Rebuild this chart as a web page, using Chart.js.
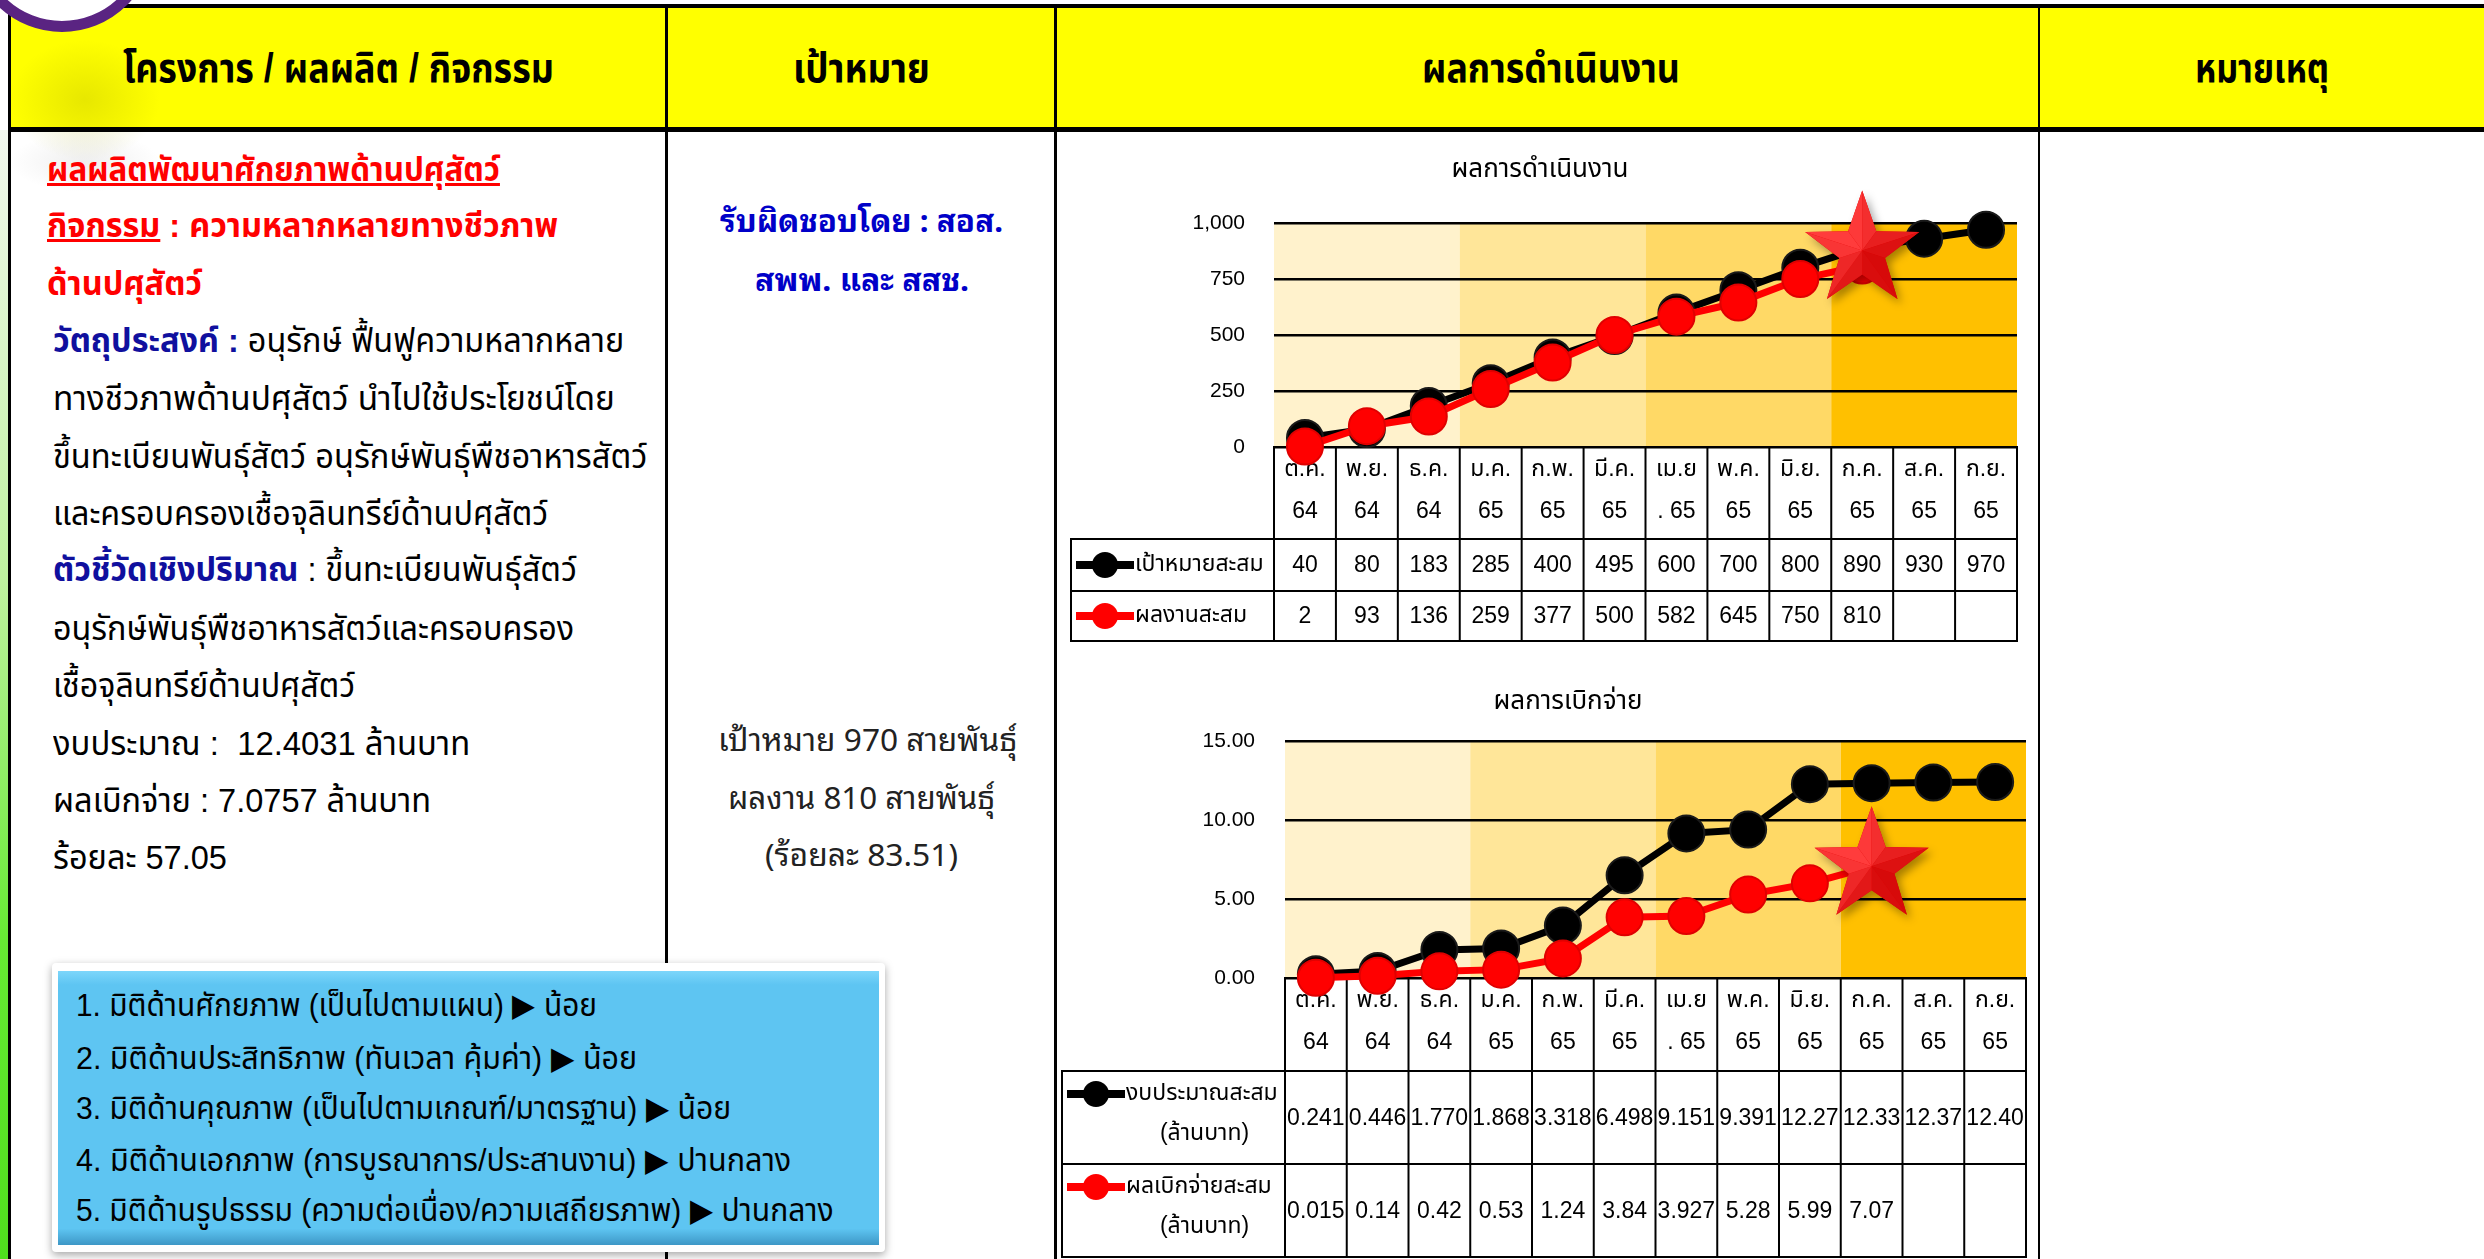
<!DOCTYPE html>
<html lang="th">
<head>
<meta charset="utf-8">
<title>ผลการดำเนินงาน</title>
<script src="https://cdn.jsdelivr.net/npm/chart.js@4.4.1/dist/chart.umd.min.js"></script>
<style>
  html, body { margin: 0; padding: 0; }
  body {
    position: relative; width: 2484px; height: 1259px; overflow: hidden; background: #fff; color: #000;
    font-family: "Liberation Sans", "Noto Sans Thai", "Noto Sans Thai UI", "Loma", "Garuda", "Waree", sans-serif;
  }
  .box { position: absolute; }
  .bar { position: absolute; background: #000; }
  .ln { position: absolute; white-space: nowrap; height: 60px; line-height: 60px; transform-origin: 0 50%; }
  .hd { font-weight: bold; font-size: 40px; }
  .red { color: #ff0000; font-weight: bold; font-size: 34px; }
  .txt { font-size: 34px; }
  .blue { color: #10109e; font-weight: bold; }
  .c2 { font-size: 31px; color: #222; font-family: "Noto Sans Thai Looped", "Liberation Sans", "Noto Sans Thai", sans-serif; }
  .c2b { font-size: 31px; color: #0000c8; font-weight: bold; font-family: "Noto Sans Thai Looped", "Liberation Sans", "Noto Sans Thai", sans-serif; }
  .bx { font-size: 32px; }
  canvas { position: absolute; }
</style>
</head>
<body>

<!-- page decoration -->
<div class="box" style="left:0;top:130px;width:8px;height:1129px;background:linear-gradient(#f2f8ee,#bff29f 40%,#66ea33 72%,#50de1e)"></div>

<!-- header band -->
<div class="box" style="left:10px;top:6px;width:2474px;height:123px;background:#ffff00"></div>
<div class="box" style="left:10px;top:40px;width:150px;height:120px;background:radial-gradient(closest-side,rgba(170,170,0,0.28),rgba(170,170,0,0))"></div>
<div class="box" style="left:10px;top:132px;width:150px;height:60px;background:radial-gradient(closest-side,rgba(120,120,120,0.12),rgba(120,120,120,0))"></div>
<div class="bar" style="left:8px;top:4px;width:2476px;height:4px"></div>
<div class="bar" style="left:8px;top:127px;width:2476px;height:5px"></div>
<div class="bar" style="left:8px;top:4px;width:3px;height:1255px"></div>
<div class="bar" style="left:665px;top:4px;width:3px;height:1255px"></div>
<div class="bar" style="left:1054px;top:4px;width:3px;height:1255px"></div>
<div class="bar" style="left:2038px;top:4px;width:2px;height:1255px"></div>
<div class="box" style="left:-30px;top:-152px;width:162px;height:162px;border-radius:50%;border:11px solid #5a2482;background:radial-gradient(circle at 50% 60%,#fff 55%,#e6e0ea)"></div>

<div class="ln hd" style="left:123px;top:38px" data-w="431">โครงการ / ผลผลิต / กิจกรรม</div>
<div class="ln hd" style="left:793px;top:38px" data-w="137">เป้าหมาย</div>
<div class="ln hd" style="left:1422px;top:38px" data-w="258">ผลการดำเนินงาน</div>
<div class="ln hd" style="left:2195px;top:38px" data-w="134">หมายเหตุ</div>

<!-- column 1 -->
<div class="ln red" style="left:47px;top:139px" data-w="453"><u>ผลผลิตพัฒนาศักยภาพด้านปศุสัตว์</u></div>
<div class="ln red" style="left:47px;top:195px" data-w="511"><u>กิจกรรม</u> : ความหลากหลายทางชีวภาพ</div>
<div class="ln red" style="left:47px;top:253px" data-w="155">ด้านปศุสัตว์</div>
<div class="ln txt" style="left:53px;top:310px" data-w="571"><span class="blue">วัตถุประสงค์ :</span> อนุรักษ์ ฟื้นฟูความหลากหลาย</div>
<div class="ln txt" style="left:53px;top:368px" data-w="562">ทางชีวภาพด้านปศุสัตว์ นำไปใช้ประโยชน์โดย</div>
<div class="ln txt" style="left:53px;top:426px" data-w="594">ขึ้นทะเบียนพันธุ์สัตว์ อนุรักษ์พันธุ์พืชอาหารสัตว์</div>
<div class="ln txt" style="left:53px;top:483px" data-w="495">และครอบครองเชื้อจุลินทรีย์ด้านปศุสัตว์</div>
<div class="ln txt" style="left:53px;top:539px" data-w="524"><span class="blue">ตัวชี้วัดเชิงปริมาณ</span> : ขึ้นทะเบียนพันธุ์สัตว์</div>
<div class="ln txt" style="left:53px;top:598px" data-w="521">อนุรักษ์พันธุ์พืชอาหารสัตว์และครอบครอง</div>
<div class="ln txt" style="left:53px;top:655px" data-w="302">เชื้อจุลินทรีย์ด้านปศุสัตว์</div>
<div class="ln txt" style="left:53px;top:713px" data-w="417">งบประมาณ :&nbsp; 12.4031 ล้านบาท</div>
<div class="ln txt" style="left:53px;top:770px" data-w="378">ผลเบิกจ่าย : 7.0757 ล้านบาท</div>
<div class="ln txt" style="left:53px;top:827px" data-w="174">ร้อยละ 57.05</div>

<!-- status box -->
<div class="box" style="left:52px;top:963px;width:833px;height:289px;background:#fff;box-shadow:0 3px 8px rgba(0,0,0,0.35);border-radius:4px"></div>
<div class="box" style="left:58px;top:971px;width:821px;height:274px;background:linear-gradient(#7dd6fb 0,#5ec5f2 5%,#5ec5f2 94%,#3d97c6 100%)"></div>
<div class="ln bx" style="left:76px;top:975px" data-w="521">1. มิติด้านศักยภาพ (เป็นไปตามแผน) ▶ น้อย</div>
<div class="ln bx" style="left:76px;top:1028px" data-w="561">2. มิติด้านประสิทธิภาพ (ทันเวลา คุ้มค่า) ▶ น้อย</div>
<div class="ln bx" style="left:76px;top:1078px" data-w="655">3. มิติด้านคุณภาพ (เป็นไปตามเกณฑ์/มาตรฐาน) ▶ น้อย</div>
<div class="ln bx" style="left:76px;top:1130px" data-w="715">4. มิติด้านเอกภาพ (การบูรณาการ/ประสานงาน) ▶ ปานกลาง</div>
<div class="ln bx" style="left:76px;top:1180px" data-w="758">5. มิติด้านรูปธรรม (ความต่อเนื่อง/ความเสถียรภาพ) ▶ ปานกลาง</div>

<!-- column 2 -->
<div class="ln c2b" style="left:720px;top:188px" data-w="283">รับผิดชอบโดย : สอส.</div>
<div class="ln c2b" style="left:755px;top:247px" data-w="214">สพพ. และ สสช.</div>
<div class="ln c2" style="left:718px;top:707px" data-w="299">เป้าหมาย 970 สายพันธุ์</div>
<div class="ln c2" style="left:728px;top:765px" data-w="267">ผลงาน 810 สายพันธุ์</div>
<div class="ln c2" style="left:765px;top:822px" data-w="193">(ร้อยละ 83.51)</div>

<!-- column 3 charts -->
<canvas id="perfChart" width="970" height="510" style="left:1060px;top:140px"></canvas>
<canvas id="spendChart" width="975" height="599" style="left:1060px;top:660px"></canvas>

<script>
// squeeze each text line to the width it has in the slide
document.querySelectorAll('[data-w]').forEach(el => {
  const k = el.dataset.w / el.getBoundingClientRect().width;
  el.style.transform = 'scaleX(' + k.toFixed(3) + ')';
});

// ---- data ----
const months = [['ต.ค.', '64'], ['พ.ย.', '64'], ['ธ.ค.', '64'], ['ม.ค.', '65'], ['ก.พ.', '65'], ['มี.ค.', '65'],
                ['เม.ย', '. 65'], ['พ.ค.', '65'], ['มิ.ย.', '65'], ['ก.ค.', '65'], ['ส.ค.', '65'], ['ก.ย.', '65']];
const targetCum = [40, 80, 183, 285, 400, 495, 600, 700, 800, 890, 930, 970];
const resultCum = [2, 93, 136, 259, 377, 500, 582, 645, 750, 810, null, null];
const budgetCum = [0.241, 0.446, 1.770, 1.868, 3.318, 6.498, 9.151, 9.391, 12.27, 12.33, 12.37, 12.40];
const spentCum = [0.015, 0.14, 0.42, 0.53, 1.24, 3.84, 3.927, 5.28, 5.99, 7.07, null, null];
const perfTicks = [0, 250, 500, 750, 1000];
const spendTicks = [0, 5, 10, 15];
const quarterColors = ['#FFF2CC', '#FFE699', '#FFD966', '#FFC000'];

const FONT = '"Liberation Sans", "Noto Sans Thai", Loma, Garuda, sans-serif';
const lastIndex = arr => arr.filter(v => v !== null).length - 1;

// red 3D star used to mark the latest result
function drawStar(ctx, cx, cy, R) {
  const r = R * 0.4;
  ctx.save();
  ctx.shadowColor = 'rgba(0,0,0,0.35)';
  ctx.shadowBlur = 8; ctx.shadowOffsetX = 4; ctx.shadowOffsetY = 5;
  ctx.beginPath();
  for (let i = 0; i < 10; i++) {
    const a = -Math.PI / 2 + i * Math.PI / 5;
    const rr = i % 2 ? r : R;
    ctx.lineTo(cx + rr * Math.cos(a), cy + rr * Math.sin(a));
  }
  ctx.closePath();
  ctx.fillStyle = '#e00000';
  ctx.fill();
  ctx.restore();
  for (let k = 0; k < 5; k++) {
    const a = -Math.PI / 2 + k * 2 * Math.PI / 5;
    [-1, 1].forEach(side => {
      const b = a + side * Math.PI / 5;
      const m = a + side * Math.PI / 10;
      const t = (Math.cos(m + 3 * Math.PI / 4) + 1) / 2; // light from upper left
      ctx.beginPath();
      ctx.moveTo(cx, cy);
      ctx.lineTo(cx + R * Math.cos(a), cy + R * Math.sin(a));
      ctx.lineTo(cx + r * Math.cos(b), cy + r * Math.sin(b));
      ctx.closePath();
      ctx.fillStyle = 'rgb(' + Math.round(215 + 40 * t) + ',' + Math.round(10 + 50 * t) + ',' + Math.round(10 + 50 * t) + ')';
      ctx.fill();
    });
  }
}

// quarter bands, title, excel-like data table and the star
const sheetPlugin = {
  id: 'sheet',
  beforeDraw(chart, args, o) {
    const { ctx, chartArea: a, scales: { x } } = chart;
    const w = (a.right - a.left) / chart.data.labels.length;
    ctx.save();
    quarterColors.forEach((c, q) => {
      ctx.fillStyle = c;
      ctx.fillRect(x.getPixelForValue(q * 3) - w / 2, a.top, w * 3, a.bottom - a.top);
    });
    ctx.fillStyle = '#000';
    ctx.font = o.titleFont;
    ctx.textAlign = 'center';
    ctx.textBaseline = 'middle';
    ctx.fillText(o.title, o.titleX, o.titleY);
    ctx.restore();
  },
  beforeDatasetsDraw(chart, args, o) {
    const { ctx, chartArea: a, scales: { x } } = chart;
    const w = (a.right - a.left) / chart.data.labels.length;
    const seg = (x0, y0, x1, y1) => { ctx.beginPath(); ctx.moveTo(x0, y0); ctx.lineTo(x1, y1); ctx.stroke(); };
    ctx.save();
    ctx.strokeStyle = '#000';
    ctx.lineWidth = 2;
    ctx.fillStyle = '#000';
    ctx.font = o.cellFont;
    ctx.textAlign = 'center';
    ctx.textBaseline = 'middle';
    let y = a.bottom;
    ctx.strokeRect(a.left, y, a.right - a.left, o.catH);
    chart.data.labels.forEach((lab, i) => {
      const cx = x.getPixelForValue(i);
      if (i) seg(cx - w / 2, y, cx - w / 2, y + o.catH);
      ctx.fillText(lab[0], cx, y + o.catY[0], w - 4);
      ctx.fillText(lab[1], cx, y + o.catY[1], w - 4);
    });
    y += o.catH;
    chart.data.datasets.forEach((ds, d) => {
      const h = o.rowH[d];
      ctx.strokeRect(o.legendX, y, a.right - o.legendX, h);
      seg(a.left, y, a.left, y + h);
      ctx.textAlign = 'center';
      ds.data.forEach((v, i) => {
        const cx = x.getPixelForValue(i);
        if (i) seg(cx - w / 2, y, cx - w / 2, y + h);
        if (v !== null) ctx.fillText(o.fmt[d](v), cx, y + h / 2 + 1, w - 4);
      });
      // legend key
      const ky = y + o.keyY[d];
      ctx.save();
      ctx.strokeStyle = ds.borderColor;
      ctx.lineWidth = 8;
      seg(o.legendX + 5, ky, o.legendX + 63, ky);
      ctx.fillStyle = ds.backgroundColor;
      ctx.beginPath();
      ctx.arc(o.legendX + 34, ky, 13, 0, 2 * Math.PI);
      ctx.fill();
      ctx.restore();
      const lines = o.legend[d];
      const tw = a.left - o.legendX - 66;
      ctx.textAlign = 'left';
      ctx.fillText(lines[0], o.legendX + 64, ky, tw);
      if (lines[1]) {
        ctx.textAlign = 'center';
        ctx.fillText(lines[1], o.legendX + 64 + tw / 2, ky + o.lineGap, tw);
      }
      y += h;
    });
    ctx.restore();
  },
  afterDatasetsDraw(chart, args, o) {
    const p = chart.getDatasetMeta(o.star.dataset).data[o.star.index];
    drawStar(chart.ctx, p.x, p.y + o.star.dy, o.star.r);
  }
};

function lineSet(label, data, color, order) {
  return {
    label: label, data: data, order: order, clip: false,
    borderColor: color, backgroundColor: color, borderWidth: 7,
    pointRadius: 18, pointBorderWidth: 2, pointBorderColor: color === '#000000' ? '#1a1a1a' : '#e00000',
    pointBackgroundColor: color, spanGaps: false, tension: 0
  };
}

function yScale(ticks, fmt, width, pad) {
  return {
    min: ticks[0], max: ticks[ticks.length - 1],
    afterBuildTicks: s => { s.ticks = ticks.map(v => ({ value: v })); },
    afterFit: s => { s.width = width; },
    ticks: { callback: fmt, padding: pad, color: '#000', font: { family: FONT, size: 21 } },
    grid: { color: '#000', lineWidth: 2.5, drawTicks: false },
    border: { display: false }
  };
}

const common = { responsive: false, animation: false, events: [] };

new Chart(document.getElementById('perfChart'), {
  type: 'line',
  data: {
    labels: months,
    datasets: [
      lineSet('เป้าหมายสะสม', targetCum, '#000000', 2),
      lineSet('ผลงานสะสม', resultCum, '#ff0000', 1)
    ]
  },
  options: Object.assign({}, common, {
    layout: { autoPadding: false, padding: { top: 83, right: 13, bottom: 203, left: 0 } },
    scales: {
      x: { display: false, offset: true },
      y: yScale(perfTicks, v => v.toLocaleString('en-US'), 214, 29)
    },
    plugins: {
      legend: { display: false },
      tooltip: { enabled: false },
      sheet: {
        title: 'ผลการดำเนินงาน', titleX: 480, titleY: 30, titleFont: '26px ' + FONT,
        cellFont: '23px ' + FONT,
        catH: 92, catY: [23, 65], rowH: [52, 50], keyY: [26, 25], lineGap: 0,
        legendX: 11,
        legend: [['เป้าหมายสะสม'], ['ผลงานสะสม']],
        fmt: [v => String(v), v => String(v)],
        star: { dataset: 1, index: lastIndex(resultCum), dy: -15, r: 60 }
      }
    }
  }),
  plugins: [sheetPlugin]
});

new Chart(document.getElementById('spendChart'), {
  type: 'line',
  data: {
    labels: months,
    datasets: [
      lineSet('งบประมาณสะสม (ล้านบาท)', budgetCum, '#000000', 2),
      lineSet('ผลเบิกจ่ายสะสม (ล้านบาท)', spentCum, '#ff0000', 1)
    ]
  },
  options: Object.assign({}, common, {
    layout: { autoPadding: false, padding: { top: 81, right: 9, bottom: 281, left: 0 } },
    scales: {
      x: { display: false, offset: true },
      y: yScale(spendTicks, v => v.toFixed(2), 225, 30)
    },
    plugins: {
      legend: { display: false },
      tooltip: { enabled: false },
      sheet: {
        title: 'ผลการเบิกจ่าย', titleX: 508, titleY: 42, titleFont: '26px ' + FONT,
        cellFont: '23px ' + FONT,
        catH: 93, catY: [23, 65], rowH: [93, 93], keyY: [23, 23], lineGap: 40,
        legendX: 2,
        legend: [['งบประมาณสะสม', '(ล้านบาท)'], ['ผลเบิกจ่ายสะสม', '(ล้านบาท)']],
        fmt: [v => v.toFixed(v < 10 ? 3 : 2), v => String(v)],
        star: { dataset: 1, index: lastIndex(spentCum), dy: 0, r: 60 }
      }
    }
  }),
  plugins: [sheetPlugin]
});
</script>
</body>
</html>
